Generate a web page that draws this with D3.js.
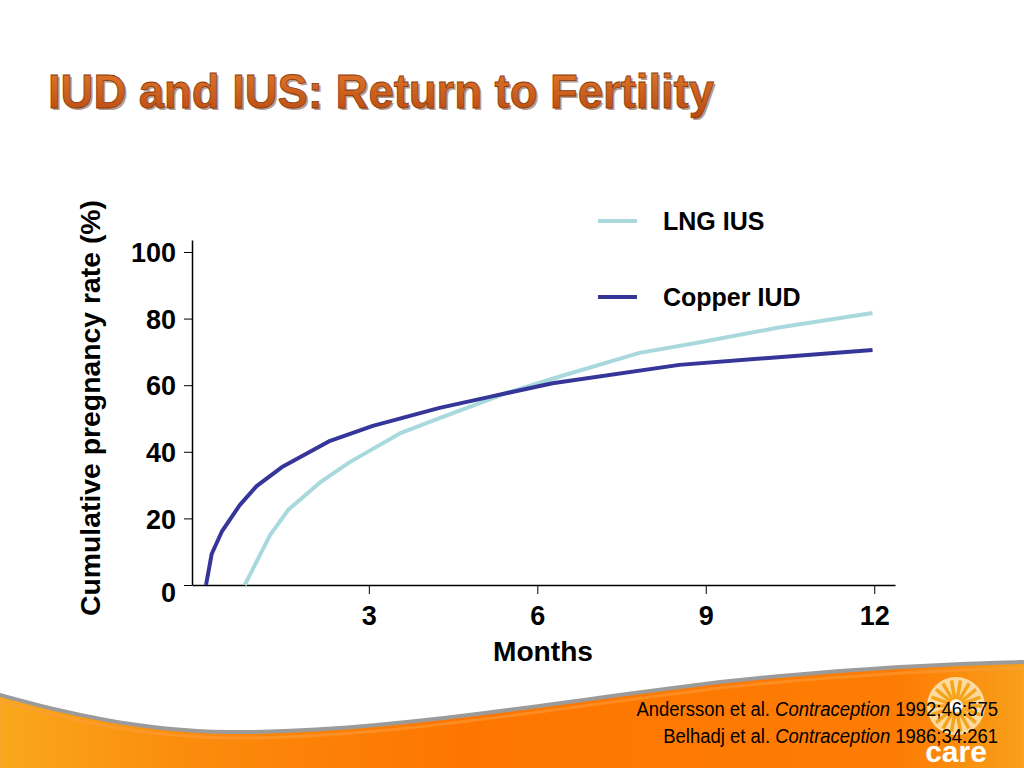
<!DOCTYPE html>
<html>
<head>
<meta charset="utf-8">
<script src="https://cdn.jsdelivr.net/npm/d3@7"></script>
<style>
  html, body { margin: 0; padding: 0; background: #fff; }
  svg { display: block; }
</style>
</head>
<body>
<div id="chart"></div>
<script>
// values
const copperMonths = [0.1, 0.2, 0.38, 0.7, 1.0, 1.47, 2.31, 3.07, 4.26, 5.15, 6.27, 8.53, 11.97];
const copperIud = [0, 9.3, 16, 24, 29.7, 35.6, 43.3, 47.8, 53.2, 56.5, 60.6, 66.1, 70.6];
const lngMonths = [0.79, 1.24, 1.56, 2.13, 2.66, 3.55, 4.26, 5.46, 6.4, 7.82, 8.9, 10.3, 11.97];
const lngIus = [0, 15, 22.5, 30.8, 36.9, 45.5, 50.1, 57.7, 62.6, 69.7, 72.9, 77.3, 81.7];
const xTicks = [3, 6, 9, 12];
const yTicks = [0, 20, 40, 60, 80, 100];
const seriesNames = ['LNG IUS', 'Copper IUD'];
const seriesColors = ['#a9d9dd', '#35359a'];
const citations = [
  ['Andersson et al. ', 'Contraception', ' 1992;46:575'],
  ['Belhadj et al. ', 'Contraception', ' 1986;34:261']
];

const width = 1024, height = 768;
const svg = d3.select('#chart').append('svg')
  .attr('width', width)
  .attr('height', height);

const defs = svg.append('defs');

// bottom orange swoosh
const og = defs.append('linearGradient').attr('id', 'orange')
  .attr('x1', 0).attr('y1', 0).attr('x2', 1).attr('y2', 0);
og.append('stop').attr('offset', '0%').attr('stop-color', '#f9a81c');
og.append('stop').attr('offset', '18%').attr('stop-color', '#fb8c0d');
og.append('stop').attr('offset', '45%').attr('stop-color', '#fe7600');
og.append('stop').attr('offset', '88%').attr('stop-color', '#fd7d04');
og.append('stop').attr('offset', '100%').attr('stop-color', '#f8a01a');

const tg = defs.append('linearGradient').attr('id', 'titleGrad')
  .attr('x1', 0).attr('y1', 0).attr('x2', 0).attr('y2', 1);
tg.append('stop').attr('offset', '0%').attr('stop-color', '#e27a2e');
tg.append('stop').attr('offset', '100%').attr('stop-color', '#b8490f');

const wave = 'M0,697 C70,716 140,733 230,734 C380,735 540,706 720,684 C840,671 940,666 1024,664 L1024,768 L0,768 Z';
svg.append('path').attr('d', wave).attr('fill', '#9b9b9b')
  .attr('transform', 'translate(0,-4)');
svg.append('path').attr('d', wave).attr('fill', 'url(#orange)');
svg.append('path').attr('d', wave).attr('fill', 'none')
  .attr('stroke', '#fda040').attr('stroke-width', 3).attr('opacity', 0.5)
  .attr('transform', 'translate(0,4)');

// title
const titleFont = '"Liberation Sans Narrow", "Arial Narrow", "Liberation Sans", sans-serif';
const title = 'IUD and IUS: Return to Fertility';
svg.append('text')
  .attr('x', 48).attr('y', 108)
  .attr('font-family', titleFont)
  .attr('font-weight', 'bold')
  .attr('font-size', 48)
  .attr('textLength', 666).attr('lengthAdjust', 'spacingAndGlyphs')
  .attr('fill', '#5a2a0a')
  .attr('opacity', 0.45)
  .attr('transform', 'translate(2,2)')
  .text(title);
svg.append('text')
  .attr('x', 48).attr('y', 108)
  .attr('font-family', titleFont)
  .attr('font-weight', 'bold')
  .attr('font-size', 48)
  .attr('textLength', 666).attr('lengthAdjust', 'spacingAndGlyphs')
  .attr('fill', 'url(#titleGrad)')
  .attr('stroke', '#8a3a0c')
  .attr('stroke-width', 0.8)
  .text(title);

// chart
const x = d3.scaleLinear().domain([-0.15, 12.37]).range([192, 895]);
const y = d3.scaleLinear().domain([0, 103.6]).range([585, 240]);

const font = '"Liberation Sans", Arial, sans-serif';

const xAxis = svg.append('g')
  .attr('transform', `translate(0,${y(0)})`)
  .call(d3.axisBottom(x).tickValues(xTicks).tickSize(9).tickPadding(12).tickSizeOuter(0));
xAxis.select('.domain').attr('stroke', '#000').attr('stroke-width', 1.5);
xAxis.selectAll('.tick line').attr('stroke', '#000').attr('stroke-width', 1);
xAxis.selectAll('.tick text')
  .attr('font-family', font).attr('font-weight', 'bold')
  .attr('font-size', 27).attr('fill', '#000');

const yAxis = svg.append('g')
  .attr('transform', `translate(${x(-0.15)},0)`)
  .call(d3.axisLeft(y).tickValues(yTicks).tickSize(8).tickPadding(8).tickSizeOuter(0));
yAxis.select('.domain').attr('stroke', '#000').attr('stroke-width', 1.5);
yAxis.selectAll('.tick line').attr('stroke', '#000').attr('stroke-width', 1);
yAxis.selectAll('.tick text')
  .attr('font-family', font).attr('font-weight', 'bold')
  .attr('font-size', 27).attr('fill', '#000')
  .attr('dy', d => d === 0 ? '0.6em' : '0.36em');

svg.append('text')
  .attr('x', 543).attr('y', 661)
  .attr('text-anchor', 'middle')
  .attr('font-family', font).attr('font-weight', 'bold')
  .attr('font-size', 28)
  .attr('textLength', 100).attr('lengthAdjust', 'spacingAndGlyphs')
  .text('Months');

svg.append('text')
  .attr('transform', 'translate(100,408) rotate(-90)')
  .attr('text-anchor', 'middle')
  .attr('font-family', font).attr('font-weight', 'bold')
  .attr('font-size', 28)
  .attr('textLength', 416).attr('lengthAdjust', 'spacingAndGlyphs')
  .text('Cumulative pregnancy rate (%)');

const line = d3.line()
  .x(d => x(d[0]))
  .y(d => y(d[1]));

const series = [
  d3.zip(lngMonths, lngIus),
  d3.zip(copperMonths, copperIud)
];

svg.append('g').selectAll('path')
  .data(series)
  .enter().append('path')
  .attr('d', line)
  .attr('fill', 'none')
  .attr('stroke', (d, i) => seriesColors[i])
  .attr('stroke-width', 4)
  .attr('stroke-linejoin', 'round');

// legend
const legend = svg.append('g').selectAll('g')
  .data(seriesNames)
  .enter().append('g')
  .attr('transform', (d, i) => `translate(598,${221 + i * 76})`);
legend.append('line')
  .attr('x1', 0).attr('x2', 39)
  .attr('stroke', (d, i) => seriesColors[i])
  .attr('stroke-width', 4);
legend.append('text')
  .attr('x', 65).attr('dy', '0.36em')
  .attr('font-family', font).attr('font-weight', 'bold')
  .attr('font-size', 25)
  .text(d => d);

// care logo (rough)
const logo = svg.append('g').attr('transform', 'translate(956,706)');
const rays = d3.range(18);
logo.append('circle').attr('r', 29).attr('fill', '#fde3b0').attr('opacity', 0.9);
logo.selectAll('line.ray')
  .data(rays)
  .enter().append('line')
  .attr('class', 'ray')
  .attr('x1', d => 7 * Math.cos(d / 18 * 2 * Math.PI))
  .attr('y1', d => 7 * Math.sin(d / 18 * 2 * Math.PI))
  .attr('x2', d => 26 * Math.cos(d / 18 * 2 * Math.PI))
  .attr('y2', d => 26 * Math.sin(d / 18 * 2 * Math.PI))
  .attr('stroke', '#f6a41c')
  .attr('stroke-width', 3.5);
logo.append('circle').attr('r', 6).attr('fill', '#fff');
logo.append('text')
  .attr('y', 56)
  .attr('text-anchor', 'middle')
  .attr('font-family', font).attr('font-weight', 'bold')
  .attr('font-size', 30)
  .attr('fill', '#fff')
  .text('care');

// citations, squeezed horizontally to look like a narrow face
const citeWidths = [362, 335];
const citeRows = svg.append('g').selectAll('g')
  .data(citations)
  .enter().append('g');
const cite = citeRows.append('text')
  .attr('text-anchor', 'end')
  .attr('font-family', titleFont)
  .attr('font-size', 21)
  .attr('fill', '#000');
cite.append('tspan').text(d => d[0]);
cite.append('tspan').attr('font-style', 'italic').text(d => d[1]);
cite.append('tspan').text(d => d[2]);
citeRows.each(function (d, i) {
  const len = d3.select(this).select('text').node().getComputedTextLength();
  d3.select(this).attr('transform',
    `translate(998,${716 + i * 27}) scale(${citeWidths[i] / len},1)`);
});
</script>
</body>
</html>
